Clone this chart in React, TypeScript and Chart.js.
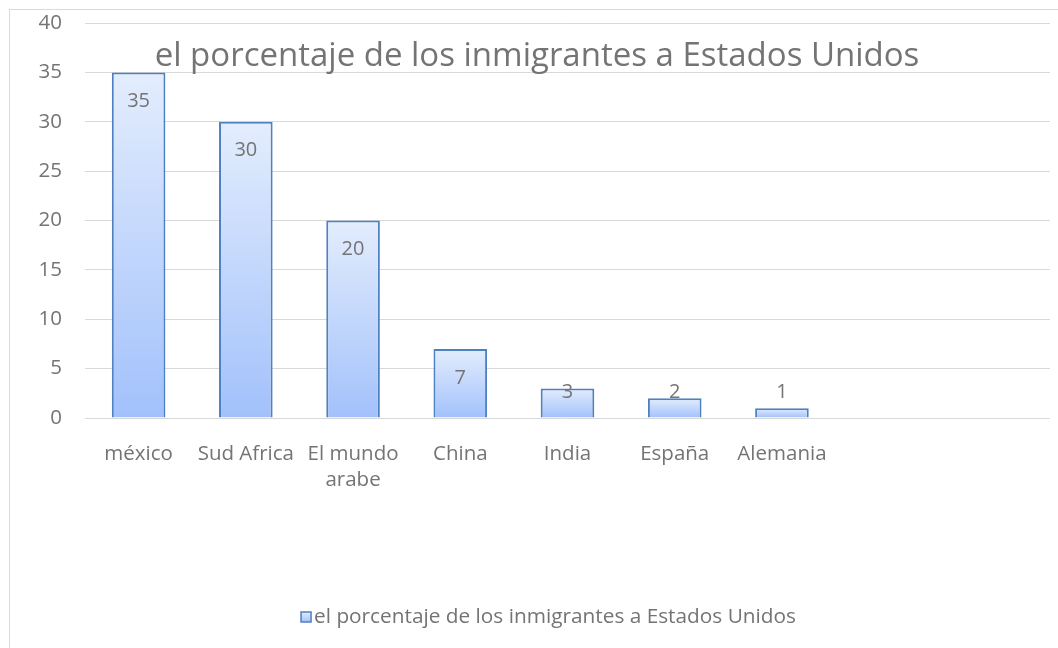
import React, { useEffect, useRef } from "react";
import { Chart, registerables } from "chart.js";

Chart.register(...registerables);

const TITLE = "el porcentaje de los inmigrantes a Estados Unidos";
const SERIES_NAME = "el porcentaje de los inmigrantes a Estados Unidos";
const categories: (string | string[])[] = [
  "méxico",
  "Sud Africa",
  ["El mundo", "arabe"],
  "China",
  "India",
  "España",
  "Alemania",
  "",
  "",
];
const values: (number | null)[] = [35, 30, 20, 7, 3, 2, 1, null, null];
const yTicks = [0, 5, 10, 15, 20, 25, 30, 35, 40];

const FONT = "'Open Sans', sans-serif";
const TEXT = "#747474";
const GRID = "#d9d9d9";
const BORDER = "#4f80c2";
const TOP_C = "#e3edfd";
const BOT_C = "#a2c1fb";

const titlePlugin = {
  id: "overlayTitle",
  afterDraw(chart: any) {
    const c = chart.ctx;
    c.save();
    c.font = `33px ${FONT}`;
    c.fillStyle = TEXT;
    c.textAlign = "center";
    c.textBaseline = "middle";
    c.fillText(TITLE, 527, chart.scales.y.getPixelForValue(36.6));
    c.restore();
  },
};

const legendPlugin = {
  id: "customLegend",
  afterDraw(chart: any) {
    const c = chart.ctx;
    c.save();
    c.font = `20.8px ${FONT}`;
    const tw = c.measureText(SERIES_NAME).width;
    const box = 10;
    const gap = 3;
    const total = box + gap + tw;
    const cx = 538.5;
    const cy = 607;
    const x0 = cx - total / 2;
    const g = c.createLinearGradient(0, cy - box / 2, 0, cy + box / 2);
    g.addColorStop(0, TOP_C);
    g.addColorStop(1, BOT_C);
    c.fillStyle = g;
    c.fillRect(x0, cy - box / 2, box, box);
    c.strokeStyle = BORDER;
    c.lineWidth = 1.5;
    c.strokeRect(x0, cy - box / 2, box, box);
    c.fillStyle = TEXT;
    c.textAlign = "left";
    c.textBaseline = "middle";
    c.fillText(SERIES_NAME, x0 + box + gap, cy);
    c.restore();
  },
};

const labelPlugin = {
  id: "valueLabels",
  afterDatasetsDraw(chart: any) {
    const c = chart.ctx;
    const meta = chart.getDatasetMeta(0);
    c.save();
    c.font = `20px ${FONT}`;
    c.fillStyle = TEXT;
    c.textAlign = "center";
    c.textBaseline = "middle";
    meta.data.forEach((el: any, i: number) => {
      const v = values[i];
      if (v === null || v === undefined) return;
      const y = Math.min(el.y + 29, el.base - 25);
      c.fillText(String(v), el.x, y);
    });
    c.restore();
  },
};

export default function App() {
  const ref = useRef<HTMLCanvasElement>(null);
  useEffect(() => {
    if (!ref.current) return;
    const chart = new Chart(ref.current, {
      type: "bar",
      data: {
        labels: categories,
        datasets: [
          {
            label: SERIES_NAME,
            data: values,
            backgroundColor: (ctx: any) => {
              const ch = ctx.chart;
              const v = ctx.raw;
              if (!ch.chartArea || v === undefined || v === null || ctx.type !== "data") {
                return "#c0d6fc";
              }
              const ys = ch.scales.y;
              const top = ys.getPixelForValue(v);
              const base = ys.getPixelForValue(0);
              const g = ch.ctx.createLinearGradient(0, top, 0, base);
              g.addColorStop(0, TOP_C);
              g.addColorStop(1, BOT_C);
              return g;
            },
            borderColor: BORDER,
            borderWidth: 2,
            categoryPercentage: 1,
            barPercentage: 0.5,
          },
        ],
      },
      options: {
        animation: false,
        responsive: false,
        maintainAspectRatio: false,
        layout: { padding: { top: 13, right: 8, bottom: 0, left: 0 } },
        scales: {
          x: {
            grid: { display: false, drawTicks: false },
            border: { display: false },
            ticks: {
              color: TEXT,
              font: { family: FONT, size: 20.5, lineHeight: 1.27 },
              padding: 23,
              maxRotation: 0,
              autoSkip: false,
            },
            afterFit: (s: any) => {
              s.height = 230;
              s.paddingLeft = 0;
              s.paddingRight = 0;
            },
          },
          y: {
            min: 0,
            max: 40,
            afterBuildTicks: (s: any) => {
              s.ticks = yTicks.map((v) => ({ value: v }));
            },
            grid: { color: GRID, lineWidth: 1, drawTicks: false },
            border: { display: false },
            ticks: {
              color: TEXT,
              font: { family: FONT, size: 20.5 },
              padding: 23,
            },
            afterFit: (s: any) => {
              s.width = 75;
              s.paddingTop = 0;
              s.paddingBottom = 0;
            },
          },
        },
        plugins: {
          title: { display: false },
          tooltip: { enabled: false },
          legend: { display: false },
        },
      },
      plugins: [titlePlugin, labelPlugin, legendPlugin],
    });
    return () => chart.destroy();
  }, []);

  return (
    <div style={{ position: "fixed", left: 0, top: 0, width: 1058, height: 648, background: "#fff" }}>
      <div
        style={{
          position: "absolute",
          left: 9,
          top: 9,
          width: 1049,
          height: 639,
          borderLeft: `1px solid ${GRID}`,
          borderTop: `1px solid ${GRID}`,
          boxSizing: "border-box",
        }}
      >
        <canvas ref={ref} width={1048} height={638} style={{ display: "block" }} />
      </div>
    </div>
  );
}
